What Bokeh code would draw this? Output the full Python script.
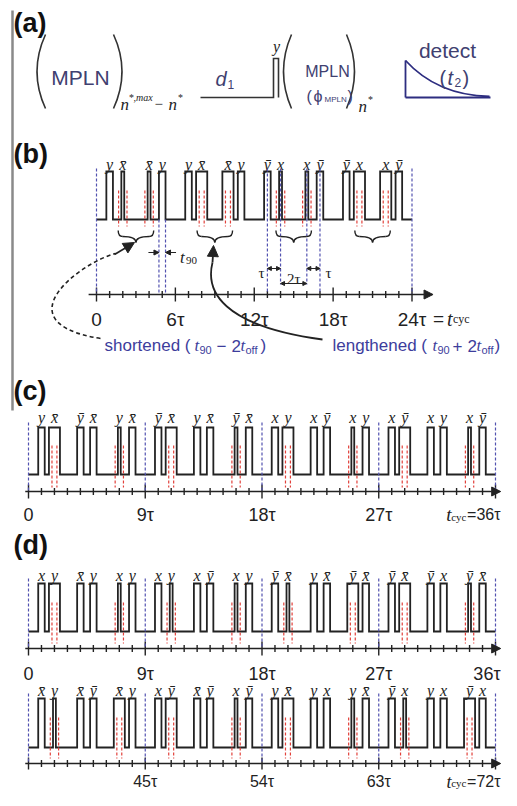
import numpy as np
from bokeh.plotting import figure
from bokeh.models import Range1d, Arrow, NormalHead
from bokeh.core.properties import value
from bokeh.embed import file_html
from bokeh.resources import INLINE

XB = "x\u0304"
YB = "y\u0304"

# ------------------------------------------------------------------ data
# panel (b): pulse centres (units of tau), phase labels, timing modification
B_TIMES = [1, 2, 4, 5, 7, 8, 10, 11, 13, 14, 16, 17, 19, 20, 22, 23]
B_LABELS = ["y", XB, XB, "y", "y", XB, XB, "y", YB, "x", "x", YB, YB, "x", "x", YB]
B_MODS = ["", "S", "S", "", "", "L", "L", "", "", "S", "S", "", "", "L", "L", ""]
B_TICKS = [0, 6, 12, 18, 24]
B_TICK_LABELS = ["0", "6τ", "12τ", "18τ", "24τ"]

# panel (c)
C_TIMES = [1, 2, 4, 5, 7, 8, 10, 11, 13, 14, 16, 17, 19, 20, 22, 23, 25, 26, 28, 29, 31, 32, 34, 35]
C_LABELS = ["y", XB, YB, XB, "y", XB, YB, XB, "y", XB, YB, XB,
            "x", "y", "x", YB, "x", "y", "x", YB, "x", "y", "x", YB]
C_MODS = ["", "L", "", "", "S", "", "", "L", "", "", "S", "",
          "", "L", "", "", "S", "", "", "L", "", "", "S", ""]
C_TICKS = [0, 9, 18, 27, 36]
C_TICK_LABELS = ["0", "9τ", "18τ", "27τ", ""]

# panel (d), first line
D1_TIMES = [1, 2, 4, 5, 7, 8, 10, 11, 13, 14, 16, 17, 19, 20, 22, 23, 25, 26, 28, 29, 31, 32, 34, 35]
D1_LABELS = ["x", "y", XB, "y", "x", "y", "x", "y", "x", YB, "x", "y",
             YB, XB, "y", XB, YB, XB, YB, XB, YB, "x", YB, XB]
D1_MODS = ["", "L", "", "", "S", "", "", "S", "", "", "S", "",
           "", "S", "", "", "L", "", "", "L", "", "", "S", ""]
D1_TICKS = [0, 9, 18, 27, 36]
D1_TICK_LABELS = ["0", "9τ", "18τ", "27τ", ""]

# panel (d), second line
D2_TIMES = [37, 38, 40, 41, 43, 44, 46, 47, 49, 50, 52, 53, 55, 56, 58, 59, 61, 62, 64, 65, 67, 68, 70, 71]
D2_LABELS = [XB, "y", XB, YB, XB, "y", "x", YB, XB, YB, "x", YB,
             "y", XB, "y", "x", "y", XB, YB, "x", "y", "x", YB, "x"]
D2_MODS = ["", "S", "", "", "L", "", "", "L", "", "", "S", "",
           "", "L", "", "", "S", "", "", "S", "", "", "L", ""]
D2_TICKS = [36, 45, 54, 63, 72]
D2_TICK_LABELS = ["", "45τ", "54τ", "63τ", ""]

# pulse widths and marker offsets (tau)
WID = {"": 0.5, "S": 0.22, "L": 0.85}
REDOFF = {"S": 0.32, "L": 0.19}

INK = "#222222"
BLUE = "#5252b0"
RED = "#e2403a"
TXT = "#404070"
NOTE = "#3d3d9c"
SANS = "Liberation Sans"
SERIF = "Liberation Serif"

# ------------------------------------------------------------------ figure
W, H = 501, 790
p = figure(width=W, height=H, x_range=Range1d(0, W), y_range=Range1d(H, 0),
           output_backend="svg", toolbar_location=None, min_border=0,
           x_axis_location=None, y_axis_location=None, outline_line_color=None,
           background_fill_color="white", border_fill_color="white")
p.grid.visible = False


def tau_range(px0, px1, t0, t1):
    k = (px1 - px0) / (t1 - t0)
    start = t0 - px0 / k
    return Range1d(start, start + W / k)


p.extra_x_ranges = {
    "b": tau_range(96, 411.5, 0, 24),
    "c": tau_range(28, 495, 0, 36),
    "d1": tau_range(28, 495, 0, 36),
    "d2": tau_range(28, 495, 36, 72),
}

ROWS = {
    "b": dict(lab=164, top=171, base=219, rt=190, rb=226, axis=294, tl=319, bt=168, t0=0, t1=24,
              a0=-0.6, a1=25.6, fs="19px", tk=7),
    "c": dict(lab=417, top=427, base=474, rt=445, rb=487, axis=491, tl=514, bt=422, t0=0, t1=36,
              a0=-0.25, a1=36.4, fs="18px", tk=7),
    "d1": dict(lab=575, top=583, base=631, rt=602, rb=643, axis=648, tl=673, bt=578, t0=0, t1=36,
               a0=-0.25, a1=36.4, fs="18px", tk=7),
    "d2": dict(lab=690, top=698, base=747, rt=717, rb=758, axis=763, tl=781, bt=693, t0=36, t1=72,
               a0=35.75, a1=72.4, fs="16px", tk=6),
}


def txt(x, y, s, size, font=SANS, style="normal", color=INK, align="left",
        baseline="middle", rng="default", xoff=0, yoff=0):
    xs = list(np.atleast_1d(x))
    ys = list(np.atleast_1d(y))
    ss = s if isinstance(s, list) else [s]
    if len(ys) == 1 and len(xs) > 1:
        ys = ys * len(xs)
    p.text(x=xs, y=ys, text=ss, x_range_name=rng, text_font=value(font),
           text_font_style=style, text_font_size=size, text_color=color,
           text_align=align, text_baseline=baseline, x_offset=xoff, y_offset=yoff)


def draw_row(name, times, labels, mods):
    g = ROWS[name]
    xs = [g["t0"]]
    ys = [g["base"]]
    for t, m in zip(times, mods):
        w = WID[m]
        xs += [t - w / 2, t - w / 2, t + w / 2, t + w / 2]
        ys += [g["base"], g["top"], g["top"], g["base"]]
    xs.append(g["t1"])
    ys.append(g["base"])
    p.line(xs, ys, x_range_name=name, line_color=INK, line_width=1.8, line_join="miter")
    rx = []
    for t, m in zip(times, mods):
        if m:
            rx += [t - REDOFF[m], t + REDOFF[m]]
    p.segment(x0=rx, x1=rx, y0=[g["rt"]] * len(rx), y1=[g["rb"]] * len(rx),
              x_range_name=name, line_color=RED, line_dash="3 2", line_width=1.2)
    txt(times, g["lab"], labels, "16px", font=SERIF, style="italic", align="center",
        baseline="alphabetic", rng=name)


def draw_axis(name, majors, labels, blue=True):
    g = ROWS[name]
    y = g["axis"]
    tk = g["tk"]
    p.add_layout(Arrow(x_start=g["a0"], y_start=y, x_end=g["a1"], y_end=y, x_range_name=name,
                       line_color=INK, line_width=1.5,
                       end=NormalHead(size=9, fill_color=INK, line_color=INK)))
    minor = [t for t in range(g["t0"], g["t1"] + 1) if t not in majors]
    p.segment(x0=minor, x1=minor, y0=[y - 3.5] * len(minor), y1=[y + 3.5] * len(minor),
              x_range_name=name, line_color=INK, line_width=1.4)
    p.segment(x0=majors, x1=majors, y0=[y - tk] * len(majors), y1=[y + tk] * len(majors),
              x_range_name=name, line_color=INK, line_width=1.4)
    if blue:
        p.segment(x0=majors, x1=majors, y0=[g["bt"]] * len(majors), y1=[y] * len(majors),
                  x_range_name=name, line_color=BLUE, line_dash="3 2", line_width=1.2)
    keep = [(t, l) for t, l in zip(majors, labels) if l]
    txt([t for t, _ in keep], g["tl"], [l for _, l in keep], g["fs"], align="center",
        baseline="alphabetic", rng=name)


# left crop bar
p.segment(x0=[12], y0=[10], x1=[12], y1=[410], line_color="#8a8a8a", line_width=2.5)

# panel letters
for lab, yc in [("(a)", 22), ("(b)", 153), ("(c)", 390), ("(d)", 544)]:
    txt(13, yc, lab, "27px", style="bold", color="#111111")

# ------------------------------------------------------------------ panel (a)
paren = dict(line_color="#333333", line_width=1.6)
p.quadratic(x0=[45, 113, 291, 346], y0=[34] * 4, x1=[45, 113, 291, 346], y1=[108] * 4,
            cx=[28, 130, 275, 362], cy=[71] * 4, **paren)
txt(80, 77, "MPLN", "21px", color=TXT, align="center")
txt(120, 104, "n", "17px", font=SERIF, style="italic")
txt(128, 97, "*,max", "10px", font=SERIF, style="italic")
txt(154, 103, "−", "15px", font=SERIF)
txt(168, 104, "n", "17px", font=SERIF, style="italic")
txt(177, 97, "*", "10px", font=SERIF, style="italic")
p.line([200, 273, 273, 278, 278], [97, 97, 58, 58, 97], line_color="#333333", line_width=1.6,
       line_join="miter")
txt(215, 78, "d", "20px", style="italic", color=TXT)
txt(227, 84, "1", "12px", color=TXT)
txt(276, 46, "y", "16px", font=SERIF, style="italic", align="center")
txt(327, 71, "MPLN", "16px", color=TXT, align="center")
txt(306, 96, "(", "16px", color=TXT)
txt(313, 96, "ϕ", "16px", color=TXT)
txt(324, 99, "MPLN", "8px", color=TXT)
txt(347, 96, ")", "16px", color=TXT)
txt(358, 106, "n", "17px", font=SERIF, style="italic")
txt(367, 99, "*", "10px", font=SERIF, style="italic")
NAVY = "#2d2d80"
p.line([405, 405], [97, 60], line_color=NAVY, line_width=1.8)
p.line([405, 490], [97, 97], line_color=NAVY, line_width=1.8)
p.bezier(x0=[405], y0=[60], x1=[489], y1=[96], cx0=[425], cy0=[82], cx1=[452], cy1=[95],
         line_color=NAVY, line_width=1.8)
txt(447, 50, "detect", "21px", color=TXT, align="center")
txt(439, 77, "(", "20px", color=TXT)
txt(447, 77, "t", "20px", style="italic", color=TXT)
txt(454, 82, "2", "12px", color=TXT)
txt(462, 77, ")", "20px", color=TXT)

# ------------------------------------------------------------------ panel (b)
draw_row("b", B_TIMES, B_LABELS, B_MODS)
draw_axis("b", B_TICKS, B_TICK_LABELS, blue=False)
gb = ROWS["b"]
# cycle limits
p.segment(x0=[0, 24], x1=[0, 24], y0=[gb["bt"]] * 2, y1=[gb["axis"]] * 2, x_range_name="b",
          line_color=BLUE, line_dash="3 2", line_width=1.2)
# t90 markers on the 4th pulse
t5 = B_TIMES[3]
e0, e1 = t5 - WID[""] / 2, t5 + WID[""] / 2
p.segment(x0=[e0, e1], x1=[e0, e1], y0=[gb["base"]] * 2, y1=[293] * 2, x_range_name="b",
          line_color=BLUE, line_dash="3 2", line_width=1.2)
for xs_, xe_ in [(e0 - 0.8, e0), (e1 + 0.8, e1)]:
    p.add_layout(Arrow(x_start=xs_, y_start=252, x_end=xe_, y_end=252, x_range_name="b",
                       line_color=INK, line_width=1.0,
                       end=NormalHead(size=5, fill_color=INK, line_color=INK)))
txt(e1 + 1.1, 257, "t", "17px", font=SERIF, style="italic", baseline="alphabetic", rng="b")
txt(e1 + 1.55, 260, "90", "11px", font=SERIF, baseline="alphabetic", rng="b")
# tau spacing markers on the third block
m13, m14, m16, m17 = B_TIMES[8:12]
p.segment(x0=[m13, m17], x1=[m13, m17], y0=[gb["bt"]] * 2, y1=[292] * 2, x_range_name="b",
          line_color=BLUE, line_dash="3 2", line_width=1.2)
p.segment(x0=[m14, m16], x1=[m14, m16], y0=[gb["bt"]] * 2, y1=[284] * 2, x_range_name="b",
          line_color=BLUE, line_dash="3 2", line_width=1.2)
for a, b_, yy in [(m13, m14, 268), (m16, m17, 268), (m14, m16, 283)]:
    p.add_layout(Arrow(x_start=a, y_start=yy, x_end=b_, y_end=yy, x_range_name="b",
                       line_color=INK, line_width=1.0,
                       start=NormalHead(size=4, fill_color=INK, line_color=INK),
                       end=NormalHead(size=4, fill_color=INK, line_color=INK)))
txt(m13 - 0.45, 272, "τ", "15px", font=SERIF, align="center", baseline="alphabetic", rng="b")
txt(m17 + 0.65, 272, "τ", "15px", font=SERIF, align="center", baseline="alphabetic", rng="b")
txt((m14 + m16) / 2, 278, "2τ", "15px", font=SERIF, align="center", baseline="alphabetic", rng="b")
# braces under the modified pulse pairs
for k in range(4):
    i1, i2 = 4 * k + 1, 4 * k + 2
    if B_MODS[i1] and B_MODS[i2]:
        a = B_TIMES[i1] - 0.35
        b_ = B_TIMES[i2] + 0.35
        m = (a + b_) / 2
        q = 0.35
        yt, ym, yb = 230, 236, 242
        p.quadratic(x0=[a, a + q, m, b_ - q], y0=[yt, ym, yb, ym],
                    x1=[a + q, m, b_ - q, b_], y1=[ym, yb, ym, yt],
                    cx=[a, m, m, b_], cy=[ym, ym, ym, ym], x_range_name="b",
                    line_color=INK, line_width=1.4)
# "= t_cyc" after the last tick label
txt(24, 318, "=", "19px", align="left", baseline="alphabetic", rng="b", xoff=21)
txt(24, 318, "t", "20px", font=SERIF, style="italic", baseline="alphabetic", rng="b", xoff=35)
txt(24, 318, "cyc", "12px", font=SERIF, baseline="alphabetic", rng="b", xoff=41, yoff=0)
# curved pointers
p.bezier(x0=[100], y0=[338], x1=[115], y1=[253], cx0=[0], cy0=[322], cx1=[80], cy1=[262],
         line_color=INK, line_width=1.6, line_dash="4 3")
p.add_layout(Arrow(x_start=114, y_start=254, x_end=134, y_end=242, line_color=INK,
                   line_width=1.6, end=NormalHead(size=11, fill_color=INK, line_color=INK)))
p.bezier(x0=[322], y0=[339], x1=[212], y1=[262], cx0=[220], cy0=[325], cx1=[205], cy1=[290],
         line_color=INK, line_width=1.8)
p.add_layout(Arrow(x_start=212, y_start=262, x_end=213, y_end=245, line_color=INK,
                   line_width=1.8, end=NormalHead(size=11, fill_color=INK, line_color=INK)))
# notes
for s, x, kind in [("shortened (", 104, "s"), ("t", 194, "i"), ("90", 199, "u"), ("−", 216, "s"),
                   ("2", 231, "s"), ("t", 240, "i"), ("off", 245, "u"), (")", 260, "s"),
                   ("lengthened (", 332, "s"), ("t", 432, "i"), ("90", 437, "u"), ("+", 452, "s"),
                   ("2", 467, "s"), ("t", 476, "i"), ("off", 481, "u"), (")", 494, "s")]:
    if kind == "s":
        txt(x, 345, s, "17px", color=NOTE)
    elif kind == "i":
        txt(x, 345, s, "17px", font=SERIF, style="italic", color=NOTE)
    else:
        txt(x, 349, s, "11px", color=NOTE)

# ------------------------------------------------------------------ panel (c)
draw_row("c", C_TIMES, C_LABELS, C_MODS)
draw_axis("c", C_TICKS, C_TICK_LABELS)
txt(36, 514, "=36τ", "16px", align="right", baseline="alphabetic", rng="c", xoff=5)
txt(36, 516, "cyc", "11px", font=SERIF, align="right", baseline="alphabetic", rng="c", xoff=-29)
txt(36, 514, "t", "19px", font=SERIF, style="italic", align="right", baseline="alphabetic",
    rng="c", xoff=-44)

# ------------------------------------------------------------------ panel (d)
draw_row("d1", D1_TIMES, D1_LABELS, D1_MODS)
draw_axis("d1", D1_TICKS, D1_TICK_LABELS)
txt(36, 673, "36τ", "18px", align="right", baseline="alphabetic", rng="d1", xoff=5)

draw_row("d2", D2_TIMES, D2_LABELS, D2_MODS)
draw_axis("d2", D2_TICKS, D2_TICK_LABELS)
txt(72, 781, "=72τ", "16px", align="right", baseline="alphabetic", rng="d2", xoff=5)
txt(72, 782, "cyc", "11px", font=SERIF, align="right", baseline="alphabetic", rng="d2", xoff=-29)
txt(72, 781, "t", "18px", font=SERIF, style="italic", align="right", baseline="alphabetic",
    rng="d2", xoff=-44)

open("out.html", "w").write(file_html(p, INLINE))
